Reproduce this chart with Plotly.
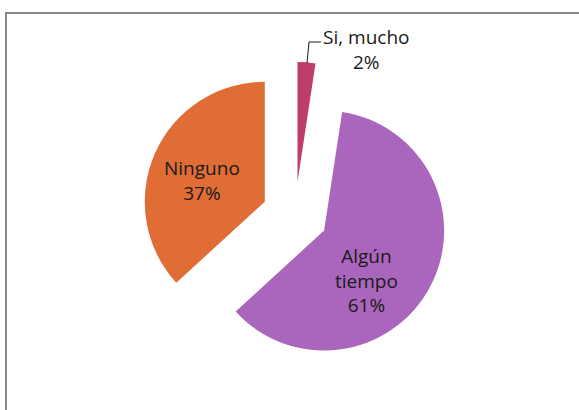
import plotly.graph_objects as go

# Data
labels = ["Si, mucho", "Algún tiempo", "Ninguno"]
values = [2.4, 60.8, 36.8]
colors = ["#BE3D6A", "#AA66BC", "#E06D36"]

W, H = 579, 410

def px(x):
    return x / W

def py(y):
    return 1 - y / H

total = sum(values)
pcts = [round(v / total * 100) for v in values]

fig = go.Figure(go.Pie(
    labels=labels,
    values=values,
    sort=False,
    direction="clockwise",
    rotation=0,
    pull=[0.275, 0.275, 0.275],
    marker=dict(colors=colors, line=dict(width=0)),
    textinfo="none",
    hoverinfo="label+percent",
    showlegend=False,
    domain=dict(x=[px(295 - 153), px(295 + 153)], y=[py(215 + 153), py(215 - 153)]),
))

font = dict(family="Open Sans, Noto Sans, sans-serif", size=19, color="#1a1a1a")

label_pos = {
    "Si, mucho": (366, 49),
    "Algún tiempo": (366, 280),
    "Ninguno": (202, 181),
}
annotations = []
for lab, p in zip(labels, pcts):
    x, y = label_pos[lab]
    txt = "<br>".join(lab.split(" ")) if lab == "Algún tiempo" else lab
    annotations.append(dict(
        x=px(x), y=py(y), xref="paper", yref="paper",
        text=f"{txt}<br>{p}%", showarrow=False,
        xanchor="center", yanchor="middle", align="center", font=font,
    ))

shapes = [
    # chart border (top and left visible)
    dict(type="path", xref="paper", yref="paper",
         path=f"M {px(6)},{py(420)} L {px(6)},{py(13)} L {px(590)},{py(13)}",
         line=dict(color="#878787", width=2)),
    # leader line for the small slice
    dict(type="path", xref="paper", yref="paper",
         path=f"M {px(307)},{py(63)} L {px(309)},{py(42)} L {px(321)},{py(42)}",
         line=dict(color="#1a1a1a", width=1)),
]

fig.update_layout(
    width=W, height=H,
    margin=dict(l=0, r=0, t=0, b=0),
    paper_bgcolor="white",
    plot_bgcolor="white",
    annotations=annotations,
    shapes=shapes,
)

fig.write_html(
    "out.html",
    config={"displayModeBar": False},
    post_script="document.body.style.margin='0px';document.body.style.overflow='hidden';",
)
